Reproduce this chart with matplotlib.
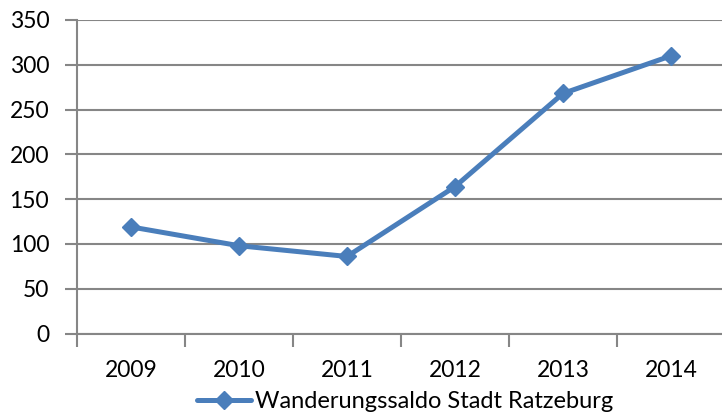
import matplotlib
matplotlib.use("Agg")
import matplotlib.pyplot as plt
import numpy as np

years = ["2009", "2010", "2011", "2012", "2013", "2014"]
values = [119, 98, 86, 164, 268, 310]
series_name = "Wanderungssaldo Stadt Ratzeburg"
yticks = [0, 50, 100, 150, 200, 250, 300, 350]

plt.rcParams['font.family'] = ['Lato', 'DejaVu Sans']

fig = plt.figure(figsize=(7.22, 4.17), dpi=100)
ax = fig.add_axes([77/722, 1-333.5/417, 648/722, (333.5-20)/417])

color = '#4A7EBB'
grid = '#868686'
x = np.arange(len(years))
ax.plot(x, values, color=color, lw=3.6, marker='D', ms=9.5,
        markeredgecolor=color, label=series_name, solid_capstyle='round', solid_joinstyle='round')

ax.set_xlim(-0.5, len(years) - 0.5)
ax.set_ylim(0, 350)
ax.set_yticks(yticks)
ax.set_xticks(x)
ax.set_xticklabels(years)
ax.set_xticks(np.arange(len(years) + 1) - 0.5, minor=True)
ax.tick_params(axis='x', which='major', length=0, pad=19, labelsize=16.5, colors='black')
ax.tick_params(axis='x', which='minor', length=9, width=1.5, color=grid, direction='out')
ax.tick_params(axis='y', length=9, width=1.5, color=grid, pad=11, labelsize=16.5, labelcolor='black')
ax.yaxis.grid(True, color=grid, lw=1.5)
ax.set_axisbelow(True)
for s in ['top', 'right']:
    ax.spines[s].set_visible(False)
for s in ['left', 'bottom']:
    ax.spines[s].set_color(grid)
    ax.spines[s].set_linewidth(1.5)

leg = fig.legend(loc='center', bbox_to_anchor=(405/722, 1-402/417), frameon=False,
                 fontsize=17, handlelength=2.3, handletextpad=0.17)

fig.savefig("out.png", dpi=100)
